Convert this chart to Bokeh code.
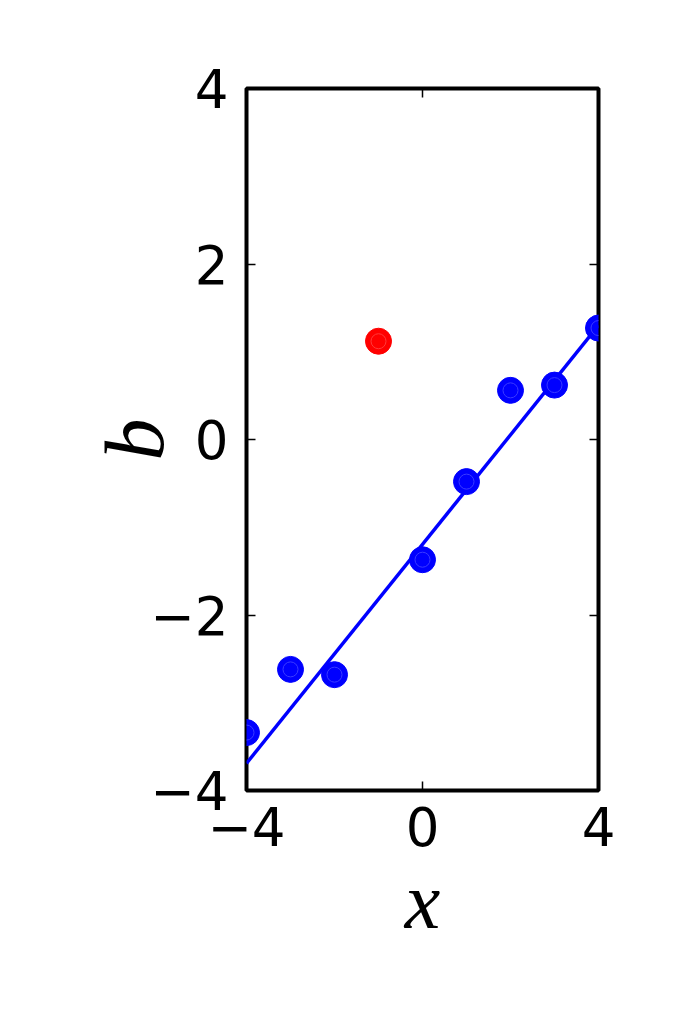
from bokeh.plotting import figure
from bokeh.models import Range1d, FixedTicker, LinearAxis
from bokeh.embed import file_html
from bokeh.resources import INLINE

# data
blue_x = [-4, -3, -2, 0, 1, 2, 3, 4]
blue_y = [-3.34, -2.62, -2.68, -1.37, -0.48, 0.56, 0.62, 1.27]
red_x = [-1]
red_y = [1.12]
fit_x = [-4, 4]
fit_y = [-3.69, 1.30]
x_ticks = [-4, 0, 4]
y_ticks = [-4, -2, 0, 2, 4]

def lab(v):
    return ("\u2212%d" % -v) if v < 0 else str(v)

p = figure(output_backend="svg", toolbar_location=None,
           frame_width=352, frame_height=702,
           min_border_left=246, min_border_right=71,
           min_border_top=88, min_border_bottom=216,
           x_range=Range1d(-4, 4), y_range=Range1d(-4, 4),
           x_axis_label="x", y_axis_label="b")
p.background_fill_color = "white"
p.border_fill_color = "white"
p.grid.visible = False
p.outline_line_color = "black"
p.outline_line_width = 4

font_size = "53px"
for ax, ticks in ((p.xaxis[0], x_ticks), (p.yaxis[0], y_ticks)):
    ax.ticker = FixedTicker(ticks=ticks)
    ax.major_label_overrides = {t: lab(t) for t in ticks}
    ax.major_label_text_font = "DejaVu Sans"
    ax.major_label_text_font_size = font_size
    ax.major_label_text_color = "black"
    ax.major_tick_in = 9
    ax.major_tick_out = 0
    ax.major_tick_line_width = 1.5
    ax.major_tick_line_color = "black"
    ax.minor_tick_line_color = None
    ax.axis_line_color = None
    ax.axis_label_text_font = "Liberation Serif"
    ax.axis_label_text_font_style = "italic"
    ax.axis_label_text_color = "black"

p.xaxis[0].axis_label_text_font_size = "80px"
p.yaxis[0].axis_label_text_font_size = "84px"
p.xaxis[0].major_label_standoff = 16
p.yaxis[0].major_label_standoff = 18
p.xaxis[0].axis_label_standoff = 8
p.yaxis[0].axis_label_standoff = -34

for loc, ticks in (("right", y_ticks), ("above", x_ticks)):
    a = LinearAxis(ticker=FixedTicker(ticks=ticks))
    a.major_label_text_font_size = "0px"
    a.major_label_text_color = None
    a.major_tick_in = 9
    a.major_tick_out = 0
    a.major_tick_line_width = 1.5
    a.major_tick_line_color = "black"
    a.minor_tick_line_color = None
    a.axis_line_color = None
    p.add_layout(a, loc)

p.line(fit_x, fit_y, line_color="#0000ff", line_width=3.5)
p.scatter(blue_x, blue_y, size=26, fill_color="#0000ff", line_color="#0000ff")
p.scatter(blue_x, blue_y, size=15, fill_color=None, line_color="#3a3aff", line_width=1)
p.scatter(red_x, red_y, size=26, fill_color="#ff0000", line_color="#ff0000")
p.scatter(red_x, red_y, size=15, fill_color=None, line_color="#ff3a3a", line_width=1)

open("out.html", "w").write(file_html(p, INLINE))
